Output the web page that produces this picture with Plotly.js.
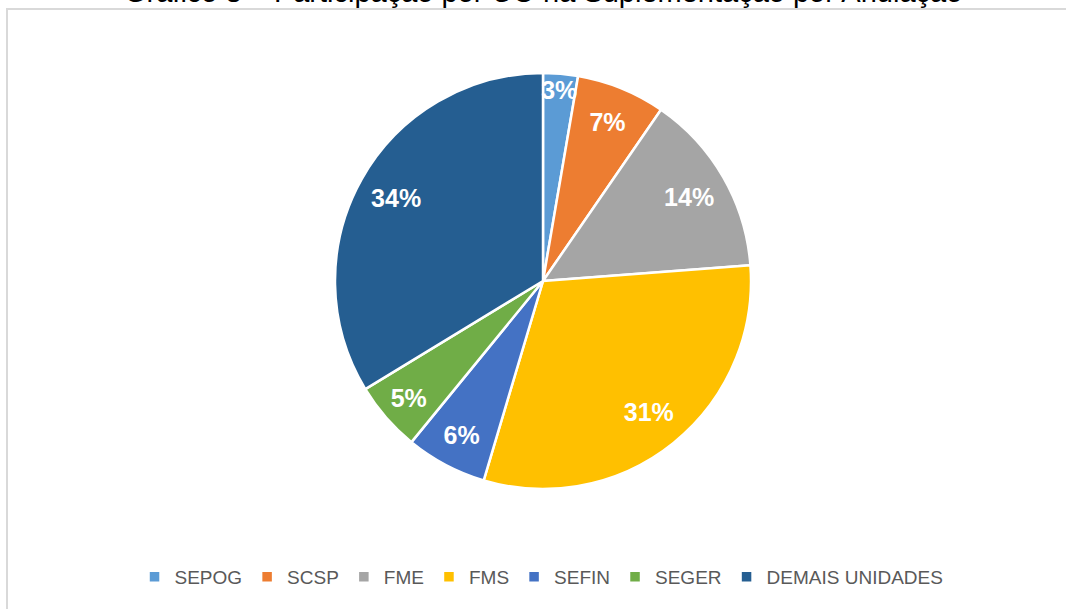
<!DOCTYPE html>
<html>
<head>
<meta charset="utf-8">
<script src="https://cdn.plot.ly/plotly-3.0.1.min.js"></script>
<style>html,body{margin:0;padding:0;background:#fff;}#chart{width:1066px;height:609px;}</style>
</head>
<body>
<div id="chart"></div>
<script>
const titleText = "Gráfico 8 – Participação por UO na Suplementação por Anulação";
const categories = ["SEPOG", "SCSP", "FME", "FMS", "SEFIN", "SEGER", "DEMAIS UNIDADES"];
const shares = [2.7, 6.9, 14.2, 30.8, 6.3, 5.4, 33.7];
const sliceColors = ["#5b9bd5", "#ed7d31", "#a5a5a5", "#ffc000", "#4472c4", "#70ad47", "#255e91"];

const pieDomain = {x: [335/1066, 751/1066], y: [(609-489)/609, (609-73)/609]};

// Filled slices (no text)
const slices = {
  type: "pie",
  labels: categories,
  values: shares,
  sort: false,
  direction: "clockwise",
  rotation: 0,
  marker: {colors: sliceColors, line: {color: "#ffffff", width: 2.5}},
  textinfo: "none",
  hoverinfo: "label+percent",
  domain: pieDomain
};

// Same data, transparent ring: carries the percentage labels further out like the original
const labelsRing = {
  type: "pie",
  labels: categories,
  values: shares,
  sort: false,
  direction: "clockwise",
  rotation: 0,
  hole: 0.62,
  showlegend: false,
  marker: {colors: categories.map(() => "rgba(0,0,0,0)"), line: {width: 0}},
  texttemplate: "%{percent:.0%}",
  textposition: "inside",
  insidetextorientation: "horizontal",
  textfont: {family: "Liberation Sans, Arial, sans-serif", size: 25, color: "#ffffff", weight: "bold"},
  hoverinfo: "skip",
  domain: pieDomain
};

const layout = {
  width: 1066,
  height: 609,
  margin: {l: 0, r: 0, t: 0, b: 0},
  paper_bgcolor: "#ffffff",
  annotations: [{
    text: titleText,
    xref: "paper", yref: "paper",
    x: 0.509, xanchor: "center",
    y: 1, yanchor: "middle", yshift: 8,
    showarrow: false,
    font: {family: "Liberation Sans, Arial, sans-serif", size: 29, color: "#000000"}
  }],
  uniformtext: {mode: "show", minsize: 25},
  showlegend: true,
  legend: {
    orientation: "h",
    x: 0.508, xanchor: "center",
    y: (609-577)/609, yanchor: "middle",
    font: {family: "Liberation Sans, Arial, sans-serif", size: 19, color: "#595959"},
    traceorder: "normal"
  },
  shapes: [
    {type: "line", xref: "paper", yref: "paper", x0: 6/1066, x1: 1, y0: 1 - 9/609, y1: 1 - 9/609, line: {color: "#d9d9d9", width: 2}},
    {type: "line", xref: "paper", yref: "paper", x0: 7/1066, x1: 7/1066, y0: 0, y1: 1 - 9/609, line: {color: "#d9d9d9", width: 2}}
  ]
};

Plotly.newPlot("chart", [slices, labelsRing], layout, {displayModeBar: false, staticPlot: true});
</script>
</body>
</html>
